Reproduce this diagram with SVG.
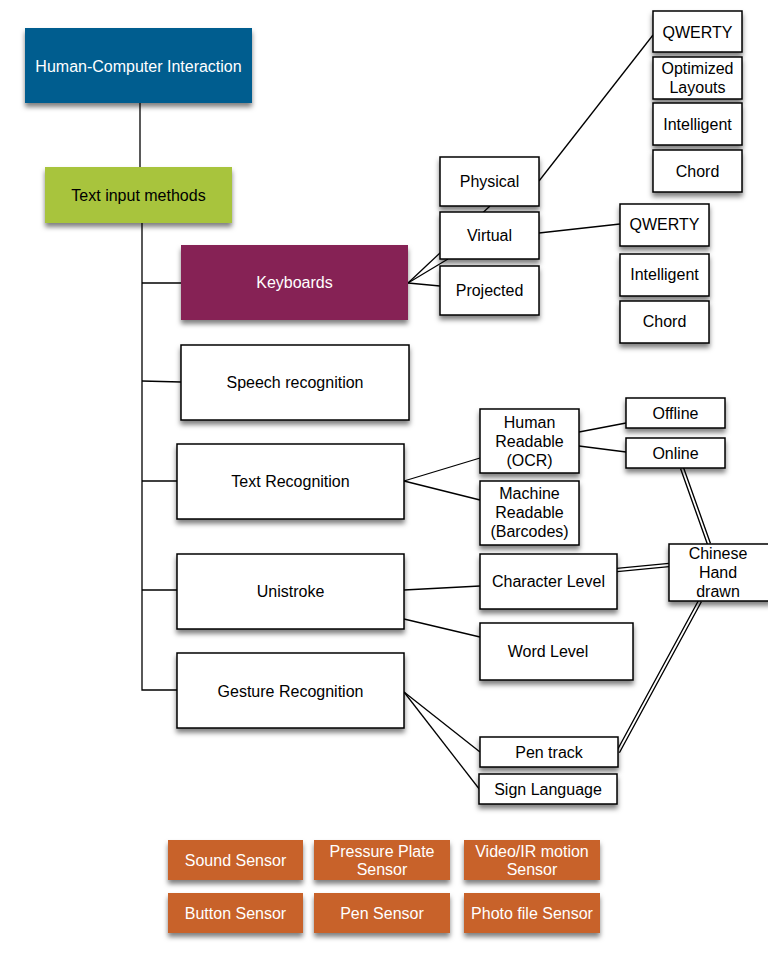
<svg xmlns="http://www.w3.org/2000/svg" width="768" height="977" viewBox="0 0 768 977">
<defs>
<filter id="sh" x="-10%" y="-20%" width="120%" height="160%">
<feDropShadow dx="0" dy="4" stdDeviation="2.5" flood-color="#000" flood-opacity="0.5"/>
</filter>
<style>
.b{fill:#fff;stroke:#000;stroke-width:1.5;filter:url(#sh)}
.t{font-family:"Liberation Sans",Arial,sans-serif;font-size:16px;fill:#000;text-anchor:middle}
.w{fill:#fff}
.c line,.c polyline{stroke:#000;stroke-width:1.3;fill:none}
.dbl{stroke:#000;stroke-width:4.5;fill:none}
.dbw{stroke:#fff;stroke-width:1.8;fill:none}
.s{fill:#c8622a;filter:url(#sh)}
</style>
</defs>
<rect width="768" height="977" fill="#fff"/>
<g id="connectors" class="c">
<line x1="140" y1="103" x2="140" y2="167"/>
<polyline points="142,223 142,690 177,690"/>
<line x1="142" y1="283" x2="181" y2="283"/>
<line x1="142" y1="381" x2="181" y2="382"/>
<line x1="142" y1="481" x2="177" y2="481"/>
<line x1="142" y1="590" x2="177" y2="590"/>
<line x1="408" y1="283" x2="490" y2="206"/>
<line x1="408" y1="283" x2="448" y2="259"/>
<line x1="408" y1="283" x2="440" y2="286"/>
<line x1="539" y1="181" x2="653" y2="35"/>
<line x1="539" y1="233" x2="620" y2="224"/>
<line x1="404" y1="481" x2="480" y2="458"/>
<line x1="404" y1="481" x2="480" y2="500"/>
<line x1="579" y1="432" x2="626" y2="423"/>
<line x1="579" y1="446" x2="626" y2="452"/>
<line x1="404" y1="590" x2="480" y2="586"/>
<line x1="404" y1="619" x2="480" y2="637"/>
<line x1="404" y1="692" x2="480" y2="752"/>
<line x1="404" y1="692" x2="480" y2="790"/>
<path class="dbl" d="M682,468 L709,544 M617,570 L669,565 M700,601 L618,752"/>
<path class="dbw" d="M682,468 L709,544 M617,570 L669,565 M700,601 L618,752"/>
</g>
<g id="hci"><rect x="25" y="28" width="227" height="75" fill="#045d8f" filter="url(#sh)"/><text class="t w" x="138.5" y="72">Human-Computer Interaction</text></g>
<g id="tim"><rect x="45" y="167" width="187" height="56" fill="#a8c43c" filter="url(#sh)"/><text class="t" x="138.5" y="201">Text input methods</text></g>
<g id="keyboards"><rect x="181" y="245" width="227" height="75" fill="#862055" filter="url(#sh)"/><text class="t w" x="294.5" y="288">Keyboards</text></g>
<g id="speech"><rect class="b" x="181" y="345" width="228" height="75"/><text class="t" x="295" y="388">Speech recognition</text></g>
<g id="textrec"><rect class="b" x="177" y="444" width="227" height="75"/><text class="t" x="290.5" y="487">Text Recognition</text></g>
<g id="unistroke"><rect class="b" x="177" y="554" width="227" height="75"/><text class="t" x="290.5" y="597">Unistroke</text></g>
<g id="gesture"><rect class="b" x="177" y="653" width="227" height="75"/><text class="t" x="290.5" y="697">Gesture Recognition</text></g>
<g id="physical"><rect class="b" x="440" y="157" width="99" height="49"/><text class="t" x="489.5" y="187">Physical</text></g>
<g id="virtual"><rect class="b" x="440" y="212" width="99" height="47"/><text class="t" x="489.5" y="241">Virtual</text></g>
<g id="projected"><rect class="b" x="440" y="266" width="99" height="49"/><text class="t" x="489.5" y="296">Projected</text></g>
<g id="qwerty1"><rect class="b" x="653" y="11" width="89" height="41"/><text class="t" x="697.5" y="38">QWERTY</text></g>
<g id="optimized"><rect class="b" x="653" y="57" width="89" height="42"/><text class="t" x="697.5" y="74">Optimized</text><text class="t" x="697.5" y="93">Layouts</text></g>
<g id="intelligent1"><rect class="b" x="653" y="103" width="89" height="42"/><text class="t" x="697.5" y="130">Intelligent</text></g>
<g id="chord1"><rect class="b" x="653" y="150" width="89" height="42"/><text class="t" x="697.5" y="177">Chord</text></g>
<g id="qwerty2"><rect class="b" x="620" y="204" width="89" height="42"/><text class="t" x="664.5" y="230">QWERTY</text></g>
<g id="intelligent2"><rect class="b" x="620" y="254" width="89" height="42"/><text class="t" x="664.5" y="280">Intelligent</text></g>
<g id="chord2"><rect class="b" x="620" y="301" width="89" height="42"/><text class="t" x="664.5" y="327">Chord</text></g>
<g id="human"><rect class="b" x="480" y="409" width="99" height="64"/><text class="t" x="529.5" y="428">Human</text><text class="t" x="529.5" y="447">Readable</text><text class="t" x="529.5" y="466">(OCR)</text></g>
<g id="machine"><rect class="b" x="480" y="481" width="99" height="64"/><text class="t" x="529.5" y="499">Machine</text><text class="t" x="529.5" y="518">Readable</text><text class="t" x="529.5" y="537">(Barcodes)</text></g>
<g id="offline"><rect class="b" x="626" y="398" width="99" height="30"/><text class="t" x="675.5" y="419">Offline</text></g>
<g id="online"><rect class="b" x="626" y="438" width="99" height="30"/><text class="t" x="675.5" y="459">Online</text></g>
<g id="chinese"><rect class="b" x="669" y="544" width="102" height="57"/><text class="t" x="718" y="559">Chinese</text><text class="t" x="718" y="578">Hand</text><text class="t" x="718" y="597">drawn</text></g>
<g id="charlevel"><rect class="b" x="480" y="554" width="137" height="55"/><text class="t" x="548.5" y="587">Character Level</text></g>
<g id="wordlevel"><rect class="b" x="480" y="623" width="153" height="57"/><text class="t" x="548" y="657">Word Level</text></g>
<g id="pentrack"><rect class="b" x="480" y="737" width="138" height="30"/><text class="t" x="549" y="758">Pen track</text></g>
<g id="sign"><rect class="b" x="479" y="774" width="138" height="30"/><text class="t" x="548" y="795">Sign Language</text></g>
<g id="sound"><rect class="s" x="168" y="840" width="135" height="40"/><text class="t w" x="235.5" y="866">Sound Sensor</text></g>
<g id="pressure"><rect class="s" x="314" y="840" width="136" height="40"/><text class="t w" x="382" y="857">Pressure Plate</text><text class="t w" x="382" y="875">Sensor</text></g>
<g id="video"><rect class="s" x="464" y="840" width="136" height="40"/><text class="t w" x="532" y="857">Video/IR motion</text><text class="t w" x="532" y="875">Sensor</text></g>
<g id="button"><rect class="s" x="168" y="893" width="135" height="40"/><text class="t w" x="235.5" y="919">Button Sensor</text></g>
<g id="pen"><rect class="s" x="314" y="893" width="136" height="40"/><text class="t w" x="382" y="919">Pen Sensor</text></g>
<g id="photo"><rect class="s" x="464" y="893" width="136" height="40"/><text class="t w" x="532" y="919">Photo file Sensor</text></g>
</svg>
